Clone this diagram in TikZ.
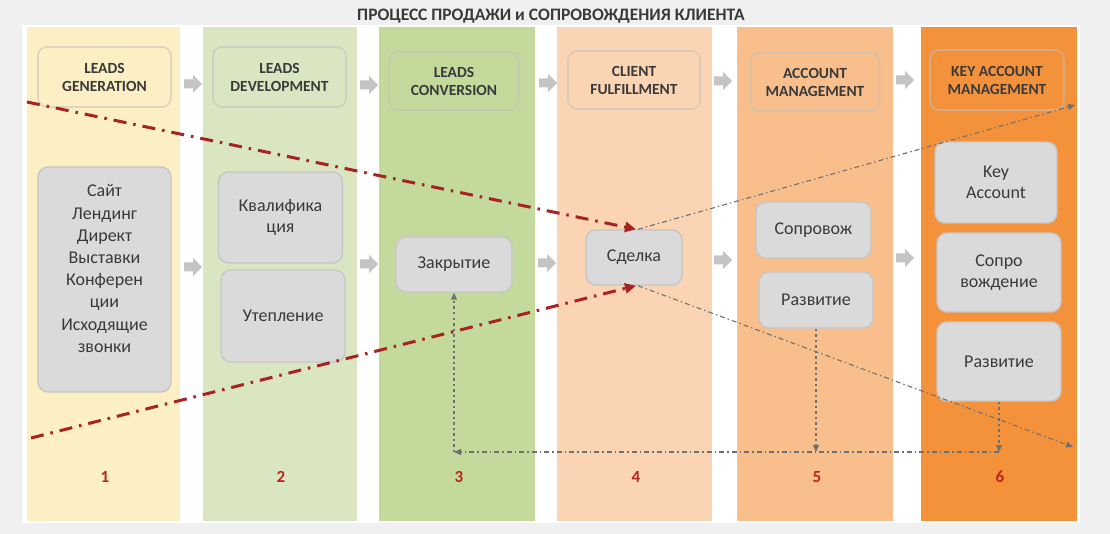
\documentclass[tikz,border=0pt]{standalone}
\usepackage{fontspec}
\setmainfont{Carlito}
\usetikzlibrary{arrows.meta}
\definecolor{bggray}{HTML}{F0F0F0}
\definecolor{colA}{HTML}{FBEFC3}
\definecolor{colB}{HTML}{DAE5C1}
\definecolor{colC}{HTML}{C4DA9C}
\definecolor{colD}{HTML}{FBD4B3}
\definecolor{colE}{HTML}{F8BF8D}
\definecolor{colF}{HTML}{F4923C}
\definecolor{txt}{HTML}{3A3A3A}
\definecolor{boxfill}{HTML}{DADADA}
\definecolor{boxline}{HTML}{C6C6C6}
\definecolor{arrowgray}{HTML}{C4C4C4}
\definecolor{redline}{HTML}{A82222}
\definecolor{numred}{HTML}{B8261F}
\definecolor{lgray}{HTML}{707070}
\tikzset{
  hdr/.style={draw=black!25, draw opacity=0.55, line width=1.6pt, rounded corners=9pt,
    align=center, text=txt, font=\fontsize{15.5}{18}\selectfont\bfseries, inner sep=0pt},
  cbox/.style={draw=boxline, line width=1.4pt, fill=boxfill, rounded corners=10pt,
    align=center, text=txt, font=\fontsize{18}{21.5}\selectfont, inner sep=0pt},
  ctext/.style={align=center, text=txt, font=\fontsize{18}{22.2}\selectfont, inner sep=0pt},
  titletext/.style={text=txt, font=\fontsize{17.5}{20}\selectfont\bfseries, inner sep=0pt},
  num/.style={text=numred, font=\fontsize{17}{19}\selectfont\bfseries, inner sep=0pt},
  reddash/.style={draw=redline, line width=3pt, dash pattern=on 13pt off 7pt on 2.5pt off 7pt,
    -{Triangle[length=11pt,width=10pt]}},
  graydash/.style={draw=lgray, line width=1.1pt, dash pattern=on 5pt off 3pt on 1.5pt off 3pt,
    -{Triangle[length=7pt,width=6pt]}},
  graydot/.style={draw=lgray, line width=1.1pt, dash pattern=on 2.5pt off 3pt,
    -{Triangle[length=7pt,width=6pt]}},
  garrow/.pic={\fill[arrowgray] (-9,-4.5) -- (0,-4.5) -- (0,-9) -- (9,0) -- (0,9) -- (0,4.5) -- (-9,4.5) -- cycle;}
}
\begin{document}
\begin{tikzpicture}[x=1pt,y=-1pt]
\useasboundingbox (0,0) rectangle (1110,534);
\fill[bggray] (0,0) rectangle (1110,534);
\fill[white] (22,25) rectangle (1080,523);
% columns
\fill[colA] (27,27) rectangle (180,521);
\fill[colB] (203,27) rectangle (357,521);
\fill[colC] (379,27) rectangle (535,521);
\fill[colD] (557,27) rectangle (712,521);
\fill[colE] (737,27) rectangle (893,521);
\fill[colF] (921,27) rectangle (1077,521);
% title
\node[titletext] (title) at (551,16) {ПРОЦЕСС ПРОДАЖИ и СОПРОВОЖДЕНИЯ КЛИЕНТА};
% headers
\node[hdr, minimum width=133pt, minimum height=60pt] (h1) at (104.5,77) {LEADS\\GENERATION};
\node[hdr, minimum width=133pt, minimum height=60pt] (h2) at (279.5,77) {LEADS\\DEVELOPMENT};
\node[hdr, minimum width=129pt, minimum height=58pt] (h3) at (454,81) {LEADS\\CONVERSION};
\node[hdr, minimum width=132pt, minimum height=58pt] (h4) at (634,80) {CLIENT\\FULFILLMENT};
\node[hdr, minimum width=129pt, minimum height=58pt] (h5) at (815,82) {ACCOUNT\\MANAGEMENT};
\node[hdr, minimum width=134pt, minimum height=60pt] (h6) at (997,80) {KEY ACCOUNT\\MANAGEMENT};
% header arrows
\pic at (193,84) {garrow};
\pic at (369,85) {garrow};
\pic at (548,83) {garrow};
\pic at (723,81) {garrow};
\pic at (905,80) {garrow};
% middle arrows
\pic at (193,267) {garrow};
\pic at (369,264) {garrow};
\pic at (547,263) {garrow};
\pic at (723,260) {garrow};
\pic at (905,258) {garrow};
% content boxes
\node[cbox, minimum width=133pt, minimum height=225pt] (src) at (104.5,279.5) {};
\node[ctext] (srctext) at (104.5,268.5) {Сайт\\Лендинг\\Директ\\Выставки\\Конферен\\ции\\Исходящие\\звонки};
\node[cbox, minimum width=124pt, minimum height=91pt] (qual) at (280.5,217.5) {Квалифика\\ция};
\node[cbox, minimum width=124pt, minimum height=92pt] (warm) at (283,316) {Утепление};
\node[cbox, minimum width=116pt, minimum height=55pt] (close) at (454,264.5) {Закрытие};
\node[cbox, minimum width=96pt, minimum height=55pt] (deal) at (634,257.5) {Сделка};
\node[cbox, minimum width=115pt, minimum height=56pt] (sup5) at (813.5,230) {Сопровож};
\node[cbox, minimum width=114pt, minimum height=56pt] (dev5) at (816,300) {Развитие};
\node[cbox, minimum width=122pt, minimum height=81pt] (key) at (996,182.5) {Key\\Account};
\node[cbox, minimum width=124pt, minimum height=79pt] (sup6) at (999,272.5) {Сопро\\вождение};
\node[cbox, minimum width=124pt, minimum height=79pt] (dev6) at (999,361.5) {Развитие};
% numbers
\node[num] (n1) at (105,477) {1};
\node[num] (n2) at (281,477) {2};
\node[num] (n3) at (459,477) {3};
\node[num] (n4) at (636,477) {4};
\node[num] (n5) at (817,477) {5};
\node[num] (n6) at (1000,477) {6};
% coordinates
\coordinate (r1) at (27,102);
\coordinate (r2) at (31,438);
\coordinate (g1) at (1075,105);
\coordinate (g2) at (1073,447);
\coordinate (b3) at (454,452);
\coordinate (b5) at (816,452);
\coordinate (b6) at (999,452);
% connectors
\draw[graydash] ([xshift=4pt]deal.north) -- (g1);
\draw[graydash] ([xshift=4pt]deal.south) -- (g2);
\draw[reddash] (r1) -- ([xshift=2pt]deal.north);
\draw[reddash] (r2) -- ([xshift=2pt]deal.south);
\draw[graydot] (dev5.south) -- (b5);
\draw[graydot] (dev6.south) -- (b6);
\draw[graydash] (b6) -- (b3);
\draw[graydot] (b3) -- (close.south);
\end{tikzpicture}
\end{document}
